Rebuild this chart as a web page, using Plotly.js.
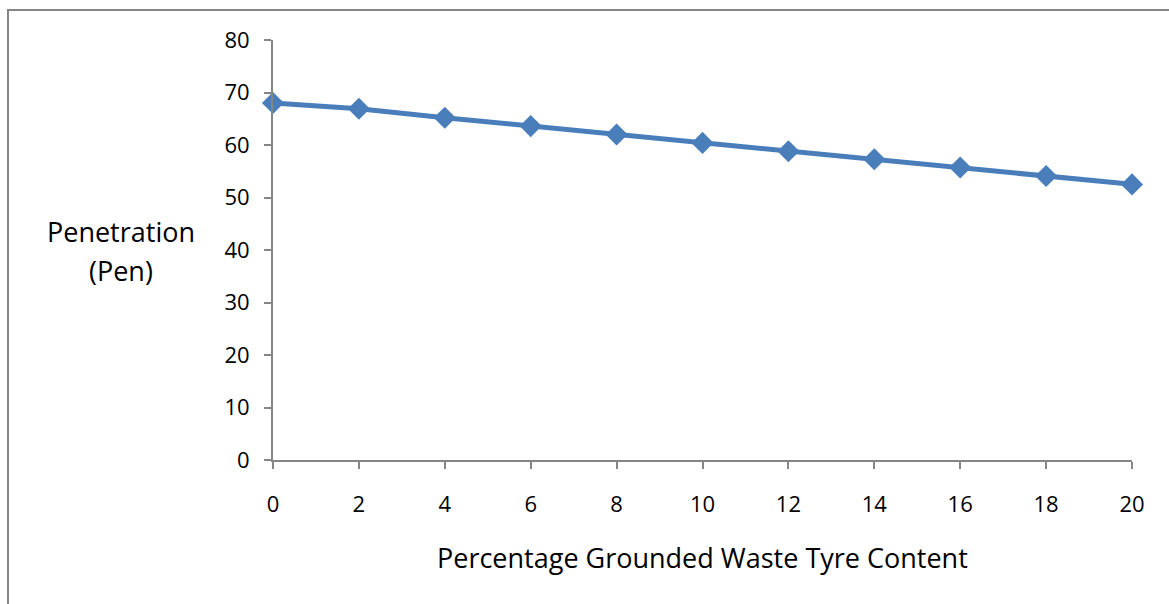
<!DOCTYPE html>
<html>
<head>
<meta charset="utf-8">
<script src="https://cdn.plot.ly/plotly-3.0.1.min.js"></script>
<style>html,body{margin:0;padding:0;background:#fff;}#chart{width:1169px;height:604px;}</style>
</head>
<body>
<div id="chart"></div>
<script>
const tyreContent = [0, 2, 4, 6, 8, 10, 12, 14, 16, 18, 20];
const penetration = [68.0, 66.9, 65.2, 63.6, 62.0, 60.4, 58.8, 57.3, 55.7, 54.1, 52.5];
const xTitle = "Percentage Grounded Waste Tyre Content";
const yTitleLines = ["Penetration", "(Pen)"];

const fontFam = "'Open Sans', 'Noto Sans', sans-serif";
const trace = {
  x: tyreContent, y: penetration, type: 'scatter', mode: 'lines+markers',
  line: {color: '#4a7ebb', width: 5},
  marker: {symbol: 'diamond', size: 17, color: '#4a7ebb'},
  cliponaxis: false,
  hoverinfo: 'skip'
};
const axisCommon = {
  showgrid: false, zeroline: false, showline: true, linecolor: '#868686', linewidth: 2,
  ticks: 'outside', ticklen: 7, tickwidth: 2, tickcolor: '#868686',
  tickfont: {family: fontFam, size: 22, color: '#000'}
};
const layout = {
  width: 1169, height: 604,
  margin: {l: 273, r: 37, t: 40, b: 144},
  paper_bgcolor: '#fff', plot_bgcolor: '#fff',
  showlegend: false,
  xaxis: Object.assign({}, axisCommon, {range: [0, 20], tickvals: tyreContent, ticklabelstandoff: 17}),
  yaxis: Object.assign({}, axisCommon, {range: [0, 80], dtick: 10, ticklabelstandoff: 10}),
  annotations: [
    {xref: 'paper', yref: 'paper', x: 0.5, y: -0.232, yanchor: 'middle', xanchor: 'center', showarrow: false,
     text: xTitle, font: {family: fontFam, size: 27, color: '#000'}},
    {xref: 'paper', yref: 'paper', x: -0.177, y: 0.543, yanchor: 'middle', xanchor: 'center', showarrow: false,
     text: yTitleLines[0], font: {family: fontFam, size: 27, color: '#000'}},
    {xref: 'paper', yref: 'paper', x: -0.177, y: 0.452, yanchor: 'middle', xanchor: 'center', showarrow: false,
     text: yTitleLines[1], font: {family: fontFam, size: 27, color: '#000'}}
  ],
  shapes: [
    {type: 'path', xref: 'paper', yref: 'paper', path: 'M -0.3085 -1 L -0.3085 1.0714 L 2 1.0714',
     line: {color: '#868686', width: 2}}
  ]
};
Plotly.newPlot('chart', [trace], layout, {staticPlot: true, displayModeBar: false});
</script>
</body>
</html>
